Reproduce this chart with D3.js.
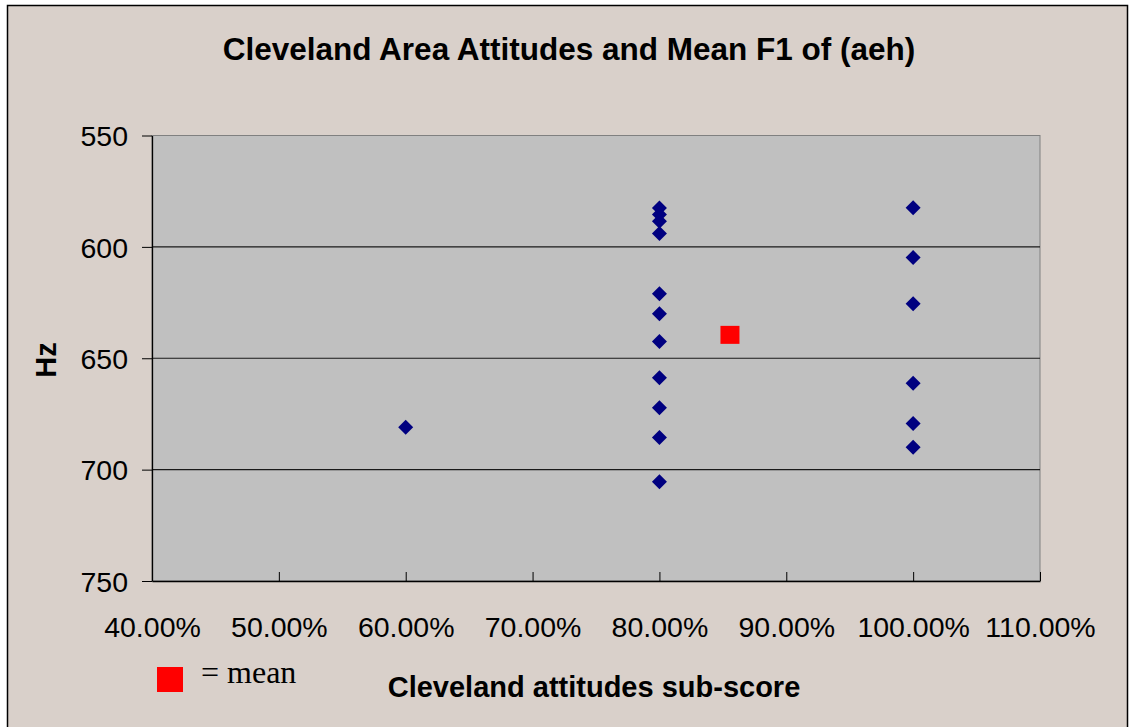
<!doctype html>
<html>
<head>
    <style>
        body {
            margin: 0;
            background: #fff;
            font-family: 'Liberation Sans', Arial, sans-serif;
        }
        svg {
            display: block;
        }
        text.title {
            font-size: 31.5px;
            font-weight: 700;
        }
        text.label {
            font-size: 29px;
            font-weight: 700;
        }
        .tick text {
            font-size: 28.5px;
            font-family: 'Liberation Sans', Arial, sans-serif;
            fill: #000;
        }
        text.legend {
            font-family: 'Liberation Serif', 'Times New Roman', serif;
            font-size: 32px;
        }
    </style>
    <script src="https://d3js.org/d3.v7.min.js"></script>
</head>
<body>
<svg width="1131" height="727"></svg>
<script>
    // attitude sub-score of each speaker and their mean F1 (Hz)
    const scores = [0.6,
        0.8, 0.8, 0.8, 0.8, 0.8, 0.8, 0.8, 0.8, 0.8, 0.8, 0.8,
        1.0, 1.0, 1.0, 1.0, 1.0, 1.0]
    const f1 = [681,
        582.5, 585.5, 588.5, 594, 621, 630, 642.5, 658.7, 672.2, 685.6, 705.4,
        582.4, 604.8, 625.5, 661.2, 679.3, 689.9]

    // overall mean point
    const meanScore = [0.8556]
    const meanF1 = [639.5]

    const xTicks = [0.4, 0.5, 0.6, 0.7, 0.8, 0.9, 1.0, 1.1]
    const yTicks = [550, 600, 650, 700, 750]

    const data = scores.map((s, i) => ({ s: s, hz: f1[i] }))
    const means = meanScore.map((s, i) => ({ s: s, hz: meanF1[i] }))

    const svg = d3.select('svg')

    const plotLeft = 152, plotRight = 1040, plotTop = 135.5, plotBottom = 581

    // chart frame
    svg.append('rect')
        .attr('x', 7.5).attr('y', 5.5)
        .attr('width', 1120).attr('height', 760)
        .attr('fill', '#d9d0ca')
        .attr('stroke', '#000')
        .attr('stroke-width', 1.5)

    const x = d3.scaleLinear().domain([0.4, 1.1]).range([plotLeft, plotRight])
    const y = d3.scaleLinear().domain([550, 750]).range([plotTop, plotBottom])

    // plot area
    svg.append('rect')
        .attr('x', plotLeft).attr('y', plotTop)
        .attr('width', plotRight - plotLeft).attr('height', plotBottom - plotTop)
        .attr('fill', '#c0c0c0')
        .attr('stroke', '#808080')
        .attr('stroke-width', 1)

    // gridlines
    svg.append('g')
        .selectAll('line')
        .data(yTicks.slice(1, -1))
        .enter()
        .append('line')
        .attr('x1', plotLeft).attr('x2', plotRight)
        .attr('y1', d => y(d)).attr('y2', d => y(d))
        .attr('stroke', '#1a1a1a')
        .attr('stroke-width', 1.2)

    const yAxis = svg.append('g')
        .attr('transform', `translate(${plotLeft}, 0)`)
        .call(d3.axisLeft(y).tickValues(yTicks).tickSize(10).tickPadding(14).tickSizeOuter(0))
    yAxis.select('.domain').attr('stroke', '#000').attr('stroke-width', 1.3)
    yAxis.selectAll('.tick line').attr('stroke', '#000')
    yAxis.selectAll('.tick text').attr('dy', '0.36em')

    const xAxis = svg.append('g')
        .attr('transform', `translate(0, ${plotBottom})`)
        .call(d3.axisBottom(x).tickValues(xTicks).tickSize(-9).tickSizeOuter(0)
            .tickFormat(d3.format('.2%')))
    xAxis.select('.domain').attr('stroke', '#000').attr('stroke-width', 1.3)
    xAxis.selectAll('.tick line').attr('stroke', '#000')
    xAxis.selectAll('.tick text').attr('y', 56).attr('dy', 0)

    // points
    svg.append('g')
        .selectAll('path')
        .data(data)
        .enter()
        .append('path')
        .attr('d', 'M0,-7.5L7.5,0L0,7.5L-7.5,0Z')
        .attr('transform', d => `translate(${x(d.s)}, ${y(d.hz)})`)
        .attr('fill', '#000080')

    svg.append('g')
        .selectAll('rect')
        .data(means)
        .enter()
        .append('rect')
        .attr('x', d => x(d.s) - 9.5)
        .attr('y', d => y(d.hz) - 9)
        .attr('width', 19).attr('height', 18)
        .attr('fill', '#ff0000')

    // titles
    svg.append('text')
        .attr('class', 'title')
        .attr('x', 569).attr('y', 60)
        .attr('text-anchor', 'middle')
        .text('Cleveland Area Attitudes and Mean F1 of (aeh)')

    svg.append('text')
        .attr('class', 'label')
        .attr('transform', 'translate(56, 360) rotate(-90)')
        .attr('text-anchor', 'middle')
        .text('Hz')

    svg.append('text')
        .attr('class', 'label')
        .attr('x', 594).attr('y', 697)
        .attr('text-anchor', 'middle')
        .text('Cleveland attitudes sub-score')

    // legend
    svg.append('rect')
        .attr('x', 157).attr('y', 667)
        .attr('width', 26).attr('height', 25)
        .attr('fill', '#ff0000')

    svg.append('text')
        .attr('class', 'legend')
        .attr('x', 201).attr('y', 683)
        .text('= mean')
</script>
</body>
</html>
